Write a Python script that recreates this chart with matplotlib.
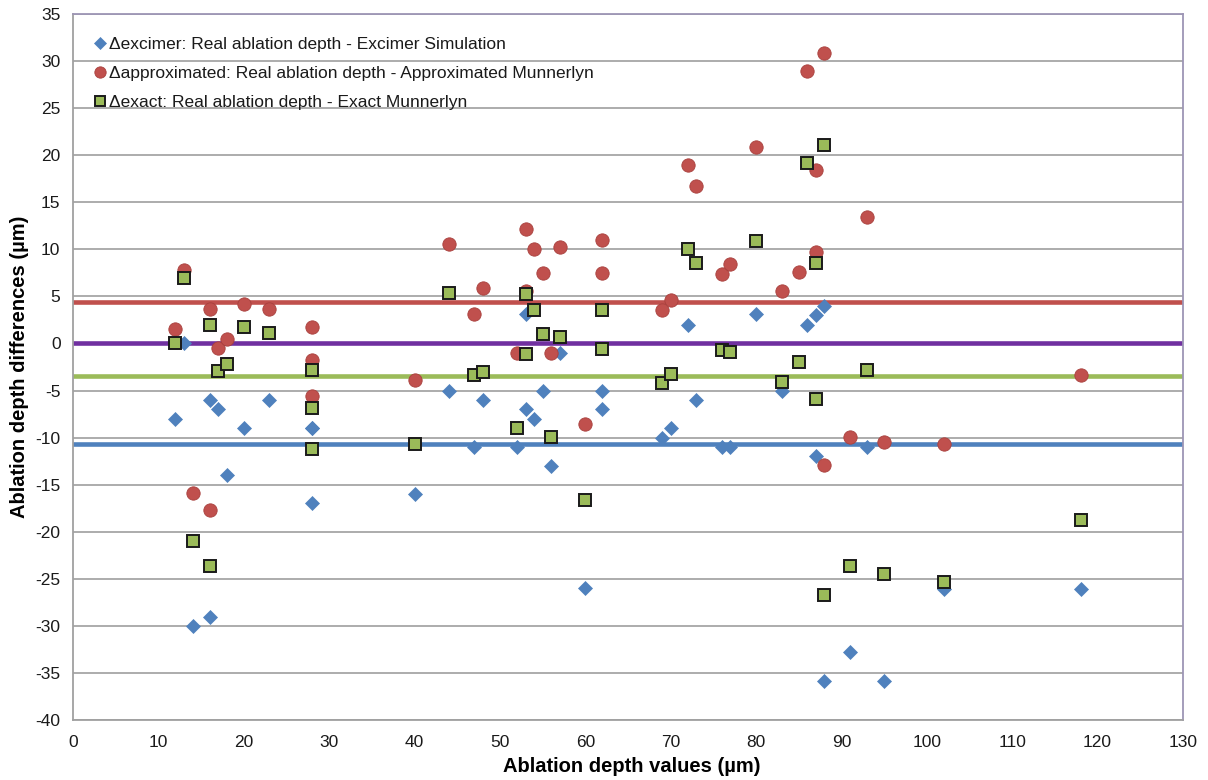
import matplotlib
matplotlib.use("Agg")
import matplotlib.pyplot as plt

plt.rcParams['font.family'] = ['Liberation Sans', 'DejaVu Sans']
plt.rcParams['axes.unicode_minus'] = False

# ---- data ----
x_excimer = [12, 13, 14, 16, 16, 17, 18, 20, 23, 28, 28, 28, 40, 44, 47, 48, 52, 53, 53, 54,
             55, 56, 57, 60, 62, 62, 69, 70, 72, 73, 76, 77, 80, 83, 86, 87, 87, 88, 88, 91,
             93, 95, 102, 118]
d_excimer = [-8, 0, -30, -6, -29.1, -7, -14, -9, -6, -9, -9, -17, -16, -5, -11, -6, -11, 3.1, -7, -8,
             -5, -13, -1, -26, -5, -7, -10, -9, 2, -6, -11, -11, 3.1, -5, 2, 3, -12, 4, -35.9, -32.8,
             -11, -35.9, -26.1, -26.1]

x_approx = [12, 13, 14, 16, 16, 17, 18, 20, 23, 28, 28, 28, 40, 44, 47, 48, 52, 53, 53, 54,
            55, 56, 57, 60, 62, 62, 69, 70, 72, 73, 76, 77, 80, 83, 85, 86, 87, 87, 88, 88,
            91, 93, 95, 102, 118]
d_approx = [1.5, 7.8, -15.9, 3.7, -17.7, -0.5, 0.5, 4.2, 3.7, 1.8, -1.8, -5.6, -3.9, 10.6, 3.1, 5.85, -1.0, 12.2, 5.6, 10.0,
            7.5, -1.06, 10.2, -8.6, 11.0, 7.45, 3.6, 4.57, 19.0, 16.7, 7.4, 8.4, 20.9, 5.6, 7.6, 28.9, 18.4, 9.75, 30.9, -12.9,
            -9.9, 13.4, -10.5, -10.7, -3.4]

x_exact = [12, 13, 14, 16, 16, 17, 18, 20, 23, 28, 28, 28, 40, 44, 47, 48, 52, 53, 53, 54,
           55, 56, 57, 60, 62, 62, 69, 70, 72, 73, 76, 77, 80, 83, 85, 86, 87, 87, 88, 88,
           91, 93, 95, 102, 118]
d_exact = [0, 7.0, -21.0, 2.0, -23.6, -2.9, -2.2, 1.8, 1.1, -2.8, -6.85, -11.2, -10.7, 5.35, -3.37, -3.0, -9.0, 5.3, -1.1, 3.6,
           0.96, -9.9, 0.7, -16.6, 3.55, -0.57, -4.2, -3.2, 10.0, 8.5, -0.74, -0.92, 10.9, -4.1, -1.98, 19.2, 8.5, -5.85, 21.06, -26.7,
           -23.6, -2.8, -24.5, -25.3, -18.8]

mean_excimer = -10.7
mean_approx = 4.4
mean_exact = -3.5
zero_line = 0.0

labels = ["\u0394excimer: Real ablation depth - Excimer Simulation",
          "\u0394approximated: Real ablation depth - Approximated Munnerlyn",
          "\u0394exact: Real ablation depth - Exact Munnerlyn"]
x_ticks = list(range(0, 131, 10))
y_ticks = list(range(-40, 36, 5))

# ---- figure ----
fig = plt.figure(figsize=(12.08, 7.80), dpi=100)
ax = fig.add_axes([73 / 1208, 1 - 720 / 780, 1110 / 1208, 706 / 780])

blue = '#4f81bd'
red = '#c0504d'
green = '#9bbb59'
purple = '#7030a0'

ax.set_xlim(0, 130)
ax.set_ylim(-40, 35)
ax.set_xticks(x_ticks)
ax.set_yticks(y_ticks)
ax.yaxis.grid(True, color='#a6a6a6', linewidth=1.3, zorder=0)
ax.set_axisbelow(True)

ax.axhline(mean_approx, color=red, linewidth=3.3, zorder=2)
ax.axhline(zero_line, color=purple, linewidth=3.3, zorder=2)
ax.axhline(mean_exact, color=green, linewidth=3.3, zorder=2)
ax.axhline(mean_excimer, color=blue, linewidth=3.3, zorder=2)

h1, = ax.plot(x_excimer, d_excimer, linestyle='none', marker='D', ms=7.0,
              mfc=blue, mec=blue, mew=0.5, zorder=3, label=labels[0])
h2, = ax.plot(x_approx, d_approx, linestyle='none', marker='o', ms=9.6,
              mfc=red, mec='#a8403d', mew=0.6, zorder=4, label=labels[1])
h3, = ax.plot(x_exact, d_exact, linestyle='none', marker='s', ms=9.0,
              mfc=green, mec='#1a1a1a', mew=1.4, zorder=5, label=labels[2])

for side in ['left', 'bottom']:
    ax.spines[side].set_color('#a0a0a0')
    ax.spines[side].set_linewidth(1.3)
for side in ['top', 'right']:
    ax.spines[side].set_color('#9d95b5')
    ax.spines[side].set_linewidth(1.3)

ax.tick_params(axis='both', length=0, labelsize=12.5, colors='#1a1a1a')
ax.tick_params(axis='y', pad=9)
ax.tick_params(axis='x', pad=11)

ax.set_xlabel("Ablation depth values (\u00b5m)", fontsize=14.5, fontweight='bold')
ax.set_ylabel("Ablation depth differences (\u00b5m)", fontsize=14.5, fontweight='bold')
ax.xaxis.set_label_coords(0.503, -0.052)
ax.yaxis.set_label_coords(-0.040, 0.5)

leg = ax.legend(handles=[h1, h2, h3], loc='upper left', bbox_to_anchor=(0.013, 0.978),
                frameon=False, fontsize=12.5, handlelength=0.6, handletextpad=0.25,
                labelspacing=0.80, markerscale=0.85, borderaxespad=0.0)
for t in leg.get_texts():
    t.set_color('#1a1a1a')

fig.savefig('out.png', dpi=100)
